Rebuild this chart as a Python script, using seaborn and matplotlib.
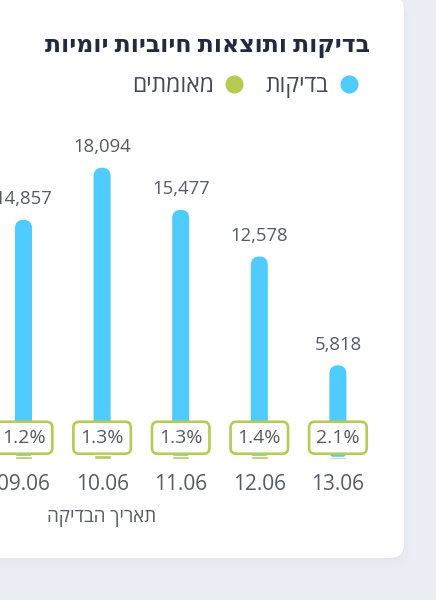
import matplotlib
matplotlib.use("Agg")
import matplotlib.pyplot as plt
import seaborn as sns
import pandas as pd
from matplotlib.patches import FancyBboxPatch
from matplotlib.lines import Line2D

# ---- data ----
dates = ["09.06", "10.06", "11.06", "12.06", "13.06"]
tests = [14857, 18094, 15477, 12578, 5818]
confirmed = [178, 235, 201, 176, 122]
pct_labels = ["1.2%", "1.3%", "1.3%", "1.4%", "2.1%"]
title_text = "בדיקות ותוצאות חיוביות יומיות"
legend_tests = "בדיקות"
legend_conf = "מאומתים"
xlabel_text = "תאריך הבדיקה"

BLUE = "#50cbfd"
GREEN = "#b7ca52"
TXT = "#555a66"


def rtl(s):
    return s[::-1]


sns.set_theme(style="white")
FAM = ["Open Sans", "DejaVu Sans"]
plt.rcParams["font.family"] = FAM

W, H = 436, 600
fig = plt.figure(figsize=(W / 100, H / 100), dpi=100, facecolor="#eaedf4")

# background card
bg = fig.add_axes([0, 0, 1, 1])
bg.set_xlim(0, W)
bg.set_ylim(H, 0)
bg.axis("off")
bg.patch.set_alpha(0)
for k, a in enumerate([0.05, 0.04, 0.03, 0.02]):
    d = 2 + 3 * k
    bg.add_patch(FancyBboxPatch((-40, -4 + d), 444 + d * 0.5, 562, boxstyle="round,pad=0,rounding_size=16",
                                fc="#c9cfdf", ec="none", alpha=a))
bg.add_patch(FancyBboxPatch((-40, -4), 444, 562, boxstyle="round,pad=0,rounding_size=14",
                            fc="white", ec="none"))

# main axes
scale = 0.0161  # px per unit
base_px = 459
ax_h = 300
ax = fig.add_axes([0, (H - base_px) / H, 1, ax_h / H])
ax.patch.set_alpha(0)

df = pd.DataFrame({"date": dates, "tests": tests, "confirmed": confirmed})
spacing = 78.6
first_px = 23.5
bar_w = 17 / spacing

sns.barplot(data=df, x="date", y="tests", color=BLUE, saturation=1, width=bar_w, ax=ax, zorder=2)
n_blue = len(ax.patches)
sns.barplot(data=df, x="date", y="confirmed", color=GREEN, saturation=1, width=bar_w, ax=ax, zorder=6)

xlim = (-first_px / spacing, (W - first_px) / spacing)
ylim = (0, ax_h / scale)
ax.set_xlim(*xlim)
ax.set_ylim(*ylim)

# rounded blue bars
y_per_px = 1 / scale
x_per_px = 1 / spacing
for p in list(ax.patches[:n_blue]):
    x, y, w, h = p.get_x(), p.get_y(), p.get_width(), p.get_height()
    p.set_visible(False)
    fb = FancyBboxPatch((x, y), w, h, boxstyle=f"round,pad=0,rounding_size={w/2}",
                        mutation_aspect=y_per_px / x_per_px, fc=BLUE, ec="none", zorder=2)
    ax.add_patch(fb)

# value labels
for i, v in enumerate(tests):
    ax.annotate(f"{v:,}", xy=(i, v), xytext=(0, 8.5), textcoords="offset points",
                ha="center", va="bottom", fontsize=13.3, color=TXT, zorder=5)

# percentage boxes
for i, s in enumerate(pct_labels):
    ax.annotate(s, xy=(i, 0), xytext=(0, 15.3), textcoords="offset points",
                ha="center", va="center", fontsize=14, color=TXT, zorder=5,
                bbox=dict(boxstyle="round,pad=0.36,rounding_size=0.3", fc="white", ec=GREEN, lw=1.9))

for s in ax.spines.values():
    s.set_visible(False)
ax.set_yticks([])
ax.set_ylabel("")
ax.set_xlabel("")
ax.tick_params(axis="x", length=0, pad=10.5, labelsize=15, labelcolor=TXT)

# x-axis title
fig.text(102 / W, 1 - 518 / H, rtl(xlabel_text), ha="center", va="center", fontsize=13.5, color=TXT)

# title
fig.text(370 / W, 1 - 46 / H, rtl(title_text), ha="right", va="center", fontsize=17,
         fontweight="bold", color="#232a3e")

# legend (RTL: marker to the right of text)
handles = [
    Line2D([], [], marker="o", ls="none", ms=12, mfc=GREEN, mec=GREEN, label=rtl(legend_conf)),
    Line2D([], [], marker="o", ls="none", ms=12, mfc=BLUE, mec=BLUE, label=rtl(legend_tests)),
]
fig.legend(handles=handles, ncol=2, markerfirst=False, frameon=False, loc="center right",
           bbox_to_anchor=(357 / W, 1 - 86 / H), fontsize=16.5, labelcolor="#444a58",
           handletextpad=0.55, columnspacing=1.0, handlelength=0.7, borderaxespad=0, borderpad=0)

fig.savefig("out.png", dpi=100, facecolor=fig.get_facecolor())
